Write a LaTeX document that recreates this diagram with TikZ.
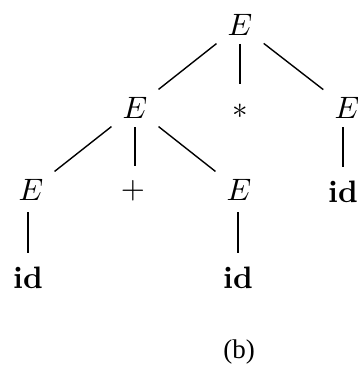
\documentclass[tikz,border=0pt]{standalone}
\usepackage{fontspec}
\newfontfamily\capfont{Liberation Serif}
\begin{document}
\begin{tikzpicture}[x=1pt,y=-1pt,
  sym/.style={inner sep=0pt,scale=3.1},
  diag/.style={line width=1.4pt,shorten <=30pt,shorten >=30pt},
  vert/.style={line width=1.4pt,shorten <=19pt,shorten >=25pt}]
\useasboundingbox (0,0) rectangle (357,369);
\clip (0,0) rectangle (357,369);
\node[sym] (r) at (240,25) {$E$};
\node[sym] (l) at (135,108) {$E$};
\node[sym] (star) at (240,111) {$*$};
\node[sym] (rr) at (347,108) {$E$};
\node[sym] (ll) at (31,190) {$E$};
\node[sym] (plus) at (133,191) {$+$};
\node[sym] (lr) at (239,190) {$E$};
\node[sym] (rid) at (343,192) {\textbf{id}};
\node[sym] (lid) at (28,278) {\textbf{id}};
\node[sym] (mid) at (238,278) {\textbf{id}};
\node[inner sep=0pt,font=\capfont\fontsize{27}{32}\selectfont] (cap) at (239,352) {(b)};
\draw[diag] (r.center) -- (l.center);
\draw[vert,shorten >=27pt] (r.center) -- (star.center);
\draw[diag] (r.center) -- (rr.center);
\draw[diag] (l.center) -- (ll.center);
\draw[vert] (l.center) -- (plus.center -| l.center);
\draw[diag] (l.center) -- (lr.center);
\draw[vert] (rr.center -| rid.center) -- (rid.center);
\draw[vert,shorten <=22pt] (ll.center -| lid.center) -- (lid.center);
\draw[vert,shorten <=22pt] (lr.center -| mid.center) -- (mid.center);
\end{tikzpicture}
\end{document}
